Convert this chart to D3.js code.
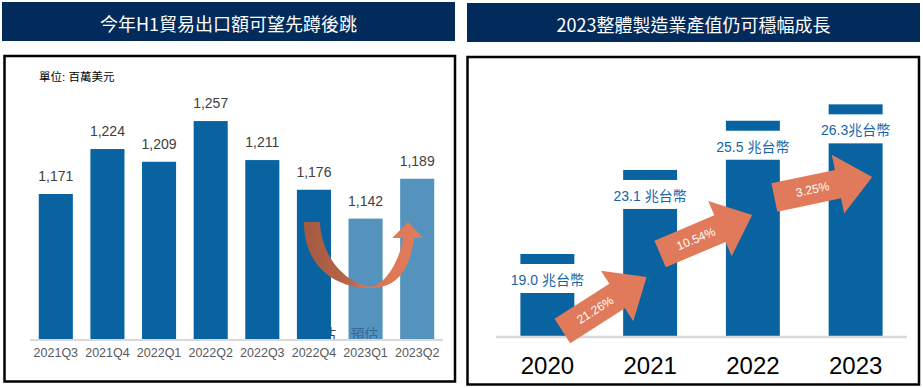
<!DOCTYPE html>
<html><head><meta charset="utf-8">
<script src="https://cdn.jsdelivr.net/npm/d3@7"></script>
<style>
html,body{margin:0;padding:0;background:#fff;}
svg{display:block;}
</style></head>
<body>
<svg id="chart" width="923" height="388"></svg>
<script>
// ---------- data ----------
const leftTitle = "今年H1貿易出口額可望先蹲後跳";
const rightTitle = "2023整體製造業產值仍可穩幅成長";
const leftUnit = "單位: 百萬美元";
const leftCats = ["2021Q3","2021Q4","2022Q1","2022Q2","2022Q3","2022Q4","2023Q1","2023Q2"];
const leftVals = [1171,1224,1209,1257,1211,1176,1142,1189];
const leftForecast = [false,false,false,false,false,false,true,true];
const forecastText = "預估";
const rightCats = ["2020","2021","2022","2023"];
const rightVals = [19.0,23.1,25.5,26.3];
const rightLabels = ["19.0 兆台幣","23.1 兆台幣","25.5 兆台幣","26.3兆台幣"];
const growthLabels = ["21.26%","10.54%","3.25%"];

// ---------- setup ----------
const svg = d3.select("#chart");
const NAVY = "#022a5a", BAR = "#0863a0", BAR_LIGHT = "#5593bf", ARROW = "#e07a5a";
const latin = "'Liberation Sans', Arial, sans-serif";
const cjk = "'Liberation Sans', 'Noto Sans CJK TC', sans-serif";

// title bars
[[2,2,453,39,leftTitle],[467,3,453,39,rightTitle]].forEach(([x,y,w,h,t])=>{
  svg.append("rect").attr("x",x).attr("y",y).attr("width",w).attr("height",h).attr("fill",NAVY);
  svg.append("text").attr("x",x+w/2).attr("y",y+h/2+1).attr("text-anchor","middle")
    .attr("dominant-baseline","central").attr("fill","#fff")
    .style("font-family","'Noto Sans CJK TC', sans-serif").style("font-size","18px").text(t);
});
// panel frames
svg.append("rect").attr("x",4.5).attr("y",56).attr("width",450.5).attr("height",325.5)
  .attr("fill","none").attr("stroke","#000").attr("stroke-width",2.5);
svg.append("rect").attr("x",467.5).attr("y",57).attr("width",451.5).attr("height",327.5)
  .attr("fill","none").attr("stroke","#000").attr("stroke-width",2.5);

// ---------- left chart ----------
const xL = d3.scaleBand().domain(leftCats).range([30,443]).paddingInner(0.34).paddingOuter(0.17);
const yL = d3.scaleLinear().domain([1000,1300]).range([339,84.6]);
const gL = svg.append("g");

gL.append("text").attr("x",39).attr("y",81).attr("fill","#000")
  .style("font-family",cjk).style("font-size","11.5px").text(leftUnit);

// hidden forecast label behind 2022Q4 bar
gL.append("text").attr("x",xL("2022Q4")+xL.bandwidth()/2+8).attr("y",339)
  .attr("text-anchor","middle").attr("fill","#404040")
  .style("font-family",cjk).style("font-size","14px").text(forecastText);

gL.selectAll("rect.bar").data(leftCats).join("rect").attr("class","bar")
  .attr("x",d=>xL(d)).attr("width",xL.bandwidth())
  .attr("y",(d,i)=>yL(leftVals[i])).attr("height",(d,i)=>yL.range()[0]-yL(leftVals[i]))
  .attr("fill",(d,i)=>leftForecast[i]?BAR_LIGHT:BAR);

gL.selectAll("text.val").data(leftCats).join("text").attr("class","val")
  .attr("x",d=>xL(d)+xL.bandwidth()/2).attr("y",(d,i)=>yL(leftVals[i])-13)
  .attr("text-anchor","middle").attr("fill","#404040")
  .style("font-family",latin).style("font-size","14px")
  .text((d,i)=>d3.format(",")(leftVals[i]));

// forecast label on 2023Q1
gL.append("text").attr("x",xL("2023Q1")+xL.bandwidth()/2-1).attr("y",339)
  .attr("text-anchor","middle").attr("fill","#1f4e79").attr("fill-opacity",0.6)
  .style("font-family",cjk).style("font-size","14px").text(forecastText);

// axis
const axL = gL.append("g").attr("transform","translate(0,340)")
  .call(d3.axisBottom(xL).tickSize(0).tickPadding(8));
axL.select(".domain").attr("stroke","#d9d9d9").attr("stroke-width",2).attr("d","M30,0H443");
axL.selectAll("text").attr("fill","#595959").style("font-family",latin).style("font-size","12.5px");

// curved arrow
const defs = svg.append("defs");
const grad = defs.append("linearGradient").attr("id","curveGrad")
  .attr("gradientUnits","userSpaceOnUse").attr("x1",300).attr("x2",425).attr("y1",0).attr("y2",0);
[[0,"#a2583f"],[0.42,"#b9664b"],[0.5,"#d87454"],[1,"#e37c5a"]].forEach(([o,c])=>
  grad.append("stop").attr("offset",o).attr("stop-color",c));
const c4 = xL("2022Q4")+xL.bandwidth()/2, c6 = xL("2023Q2")+xL.bandwidth()/2;
const ax0 = c4-10, mid = (c4+c6)/2+5, yTop = 222, yBot = 288;
const p = d3.path();
p.moveTo(ax0,yTop);
p.bezierCurveTo(ax0,yTop+40,ax0+26,yBot,mid,yBot);
p.bezierCurveTo(mid+30,yBot,c6-7,yBot-23,c6-3,yTop+16);
p.lineTo(c6+6,yTop+16);
p.lineTo(c6-9,yTop);
p.lineTo(c6-25,yTop+16);
p.lineTo(c6-14,yTop+16);
p.bezierCurveTo(c6-18,yBot-26,c6-32,yBot-3,mid,yBot-1.5);
p.bezierCurveTo(mid-20,yBot-3,ax0+18,yTop+40,ax0+16,yTop);
p.closePath();
svg.append("path").attr("d",p.toString()).attr("fill","url(#curveGrad)");

// ---------- right chart ----------
const xR = d3.scaleBand().domain(rightCats).range([496,907]).paddingInner(0.475).paddingOuter(0.2375);
const yR = d3.scaleLinear().domain([15,30]).range([336,28.5]);
const gR = svg.append("g");

gR.selectAll("rect.bar").data(rightCats).join("rect").attr("class","bar")
  .attr("x",d=>xR(d)).attr("width",xR.bandwidth())
  .attr("y",(d,i)=>yR(rightVals[i])).attr("height",(d,i)=>yR.range()[0]-yR(rightVals[i]))
  .attr("fill",BAR);
// white label bands
gR.selectAll("rect.band").data(rightCats).join("rect").attr("class","band")
  .attr("x",d=>xR(d)-1).attr("width",xR.bandwidth()+2)
  .attr("y",(d,i)=>yR(rightVals[i])+10).attr("height",29).attr("fill","#fff");
gR.selectAll("text.val").data(rightCats).join("text").attr("class","val")
  .attr("x",d=>xR(d)+xR.bandwidth()/2).attr("y",(d,i)=>yR(rightVals[i])+31)
  .attr("text-anchor","middle").attr("fill","#1565a8")
  .style("font-family",cjk).style("font-size","14px").text((d,i)=>rightLabels[i]);

const axR = gR.append("g").attr("transform","translate(0,337)")
  .call(d3.axisBottom(xR).tickSize(0).tickPadding(20));
axR.select(".domain").attr("stroke","#d9d9d9").attr("stroke-width",2.5).attr("d","M496,0H907");
axR.selectAll("text").attr("fill","#000").style("font-family",latin).style("font-size","24px");

// growth arrows
const arrowShape = "M0,-14.5H65V-30L100,0L65,30V14.5H0Z";
const arrowPos = [
  {cat:"2020", dx:15, y:331, ang:-32.6},
  {cat:"2021", dx:10, y:254, ang:-23},
  {cat:"2022", dx:21.5, y:197.5, ang:-11.9}
];
arrowPos.forEach((a,i)=>{
  const tx = xR(a.cat)+xR.bandwidth()/2+a.dx;
  const g = gR.append("g").attr("transform",`translate(${tx},${a.y}) rotate(${a.ang})`);
  g.append("path").attr("d",arrowShape).attr("fill",ARROW);
  g.append("text").attr("x",39).attr("y",0).attr("text-anchor","middle")
    .attr("dominant-baseline","central").attr("fill","#fff")
    .style("font-family",latin).style("font-size","12px").text(growthLabels[i]);
});
</script>
</body></html>
